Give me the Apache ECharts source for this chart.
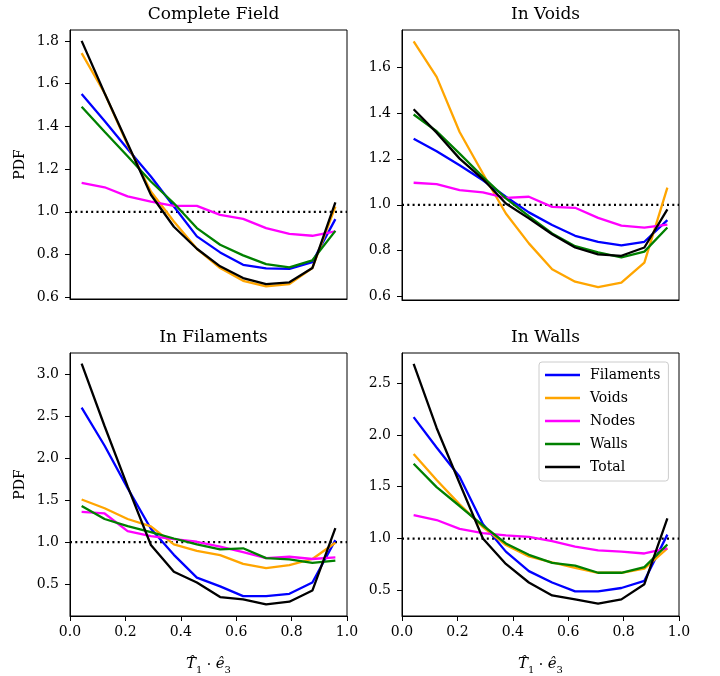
<!DOCTYPE html>
<html>
<head>
<meta charset="utf-8">
<script src="https://cdn.jsdelivr.net/npm/echarts@6/dist/echarts.min.js"></script>
<style>
html,body{margin:0;padding:0;background:#fff;}
#chart{width:720px;height:676px;}
</style>
</head>
<body>
<div id="chart"></div>
<script>
// Bin centres of T1·e3
const xCenters = [0.042,0.125,0.208,0.292,0.375,0.458,0.542,0.625,0.708,0.792,0.875,0.958];

// Complete Field
const cfFilaments = [1.551,1.425,1.294,1.165,1.025,0.885,0.810,0.752,0.735,0.733,0.765,0.966];
const cfVoids     = [1.743,1.555,1.313,1.095,0.955,0.827,0.737,0.677,0.651,0.662,0.737,1.025];
const cfNodes     = [1.136,1.115,1.072,1.048,1.028,1.028,0.986,0.967,0.924,0.897,0.888,0.908];
const cfWalls     = [1.492,1.375,1.260,1.142,1.040,0.924,0.846,0.796,0.755,0.740,0.773,0.911];
const cfTotal     = [1.800,1.555,1.320,1.080,0.930,0.827,0.745,0.690,0.662,0.670,0.737,1.044];

// In Voids
const vFilaments = [1.288,1.233,1.172,1.107,1.035,0.967,0.912,0.865,0.839,0.823,0.839,0.933];
const vVoids     = [1.712,1.557,1.317,1.136,0.962,0.832,0.719,0.665,0.642,0.661,0.748,1.075];
const vNodes     = [1.096,1.090,1.064,1.054,1.030,1.035,0.991,0.987,0.943,0.909,0.901,0.914];
const vWalls     = [1.393,1.320,1.223,1.122,1.028,0.951,0.875,0.820,0.793,0.771,0.796,0.901];
const vTotal     = [1.416,1.314,1.201,1.112,1.006,0.941,0.872,0.814,0.784,0.778,0.814,0.980];

// In Filaments
const fFilaments = [2.606,2.151,1.645,1.159,0.848,0.576,0.471,0.355,0.355,0.382,0.518,1.023];
const fVoids     = [1.509,1.404,1.276,1.187,0.973,0.895,0.844,0.740,0.689,0.724,0.798,0.992];
const fNodes     = [1.362,1.342,1.132,1.070,1.035,1.004,0.946,0.879,0.809,0.825,0.798,0.817];
const fWalls     = [1.432,1.276,1.191,1.120,1.043,0.973,0.914,0.926,0.809,0.794,0.751,0.778];
const fTotal     = [3.131,2.384,1.665,0.965,0.646,0.518,0.343,0.316,0.257,0.288,0.421,1.167];

// In Walls
const wFilaments = [2.171,1.879,1.597,1.141,0.874,0.686,0.576,0.491,0.491,0.523,0.592,1.038];
const wVoids     = [1.816,1.565,1.330,1.110,0.937,0.827,0.771,0.717,0.670,0.670,0.711,0.906];
const wNodes     = [1.226,1.179,1.094,1.053,1.031,1.016,0.975,0.922,0.887,0.874,0.856,0.906];
const wWalls     = [1.722,1.496,1.314,1.126,0.953,0.843,0.765,0.739,0.670,0.670,0.724,0.943];
const wTotal     = [2.686,2.067,1.534,1.000,0.755,0.576,0.451,0.413,0.372,0.413,0.560,1.195];

// Reference line (uniform PDF)
const refLineX = [0, 1];
const refLineY = [1, 1];

// Tick labels
const xTicks  = [0.0,0.2,0.4,0.6,0.8,1.0];
const yTicks1 = [0.6,0.8,1.0,1.2,1.4,1.6,1.8];
const yTicks2 = [0.6,0.8,1.0,1.2,1.4,1.6];
const yTicks3 = [0.5,1.0,1.5,2.0,2.5,3.0];
const yTicks4 = [0.5,1.0,1.5,2.0,2.5];

const seriesNames = ['Filaments','Voids','Nodes','Walls','Total'];
const panelTitles = ['Complete Field','In Voids','In Filaments','In Walls'];

const colors = {Filaments:'#0000ff', Voids:'#ffa500', Nodes:'#ff00ff', Walls:'#008000', Total:'#000000'};
const FONT = 'DejaVu Serif';

const panels = [
  {data:[cfFilaments,cfVoids,cfNodes,cfWalls,cfTotal], ticks:yTicks1, min:0.592, max:1.851,
   grid:{left:70, top:30, width:277, height:269}, bottom:false, ylabel:true},
  {data:[vFilaments,vVoids,vNodes,vWalls,vTotal], ticks:yTicks2, min:0.5855, max:1.761,
   grid:{left:402, top:30, width:277, height:270}, bottom:false, ylabel:false},
  {data:[fFilaments,fVoids,fNodes,fWalls,fTotal], ticks:yTicks3, min:0.117, max:3.259,
   grid:{left:70, top:353, width:277, height:270}, bottom:true, ylabel:true},
  {data:[wFilaments,wVoids,wNodes,wWalls,wTotal], ticks:yTicks4, min:0.253, max:2.79,
   grid:{left:402, top:353, width:277, height:270}, bottom:true, ylabel:false}
];

const grids = [], xAxes = [], yAxes = [], series = [], titles = [];
const xName = '{it|T\u0302}{sub|1}{op| \u00b7 }{it|e\u0302}{sub|3}';

panels.forEach((p, i) => {
  grids.push(Object.assign({show:true, borderColor:'#000', borderWidth:1, backgroundColor:'transparent'}, p.grid));
  xAxes.push({
    type:'value', gridIndex:i, min:0, max:1,
    splitLine:{show:false},
    axisLine:{show:true, onZero:false, lineStyle:{color:'#000', width:1}},
    axisTick:{show:p.bottom, length:5, customValues:xTicks, lineStyle:{color:'#000', width:1}},
    axisLabel:{show:p.bottom, customValues:xTicks, margin:9, color:'#000', fontFamily:FONT, fontSize:14,
      formatter:v => v.toFixed(1)},
    name: p.bottom ? xName : '',
    nameLocation:'middle', nameGap:36,
    nameTextStyle:{color:'#000', fontFamily:FONT, fontSize:14,
      rich:{
        it:{fontFamily:FONT, fontStyle:'italic', fontSize:15, lineHeight:20, verticalAlign:'bottom'},
        sub:{fontFamily:FONT, fontSize:10, lineHeight:14, verticalAlign:'bottom', padding:[0,0,-3,0]},
        op:{fontFamily:FONT, fontSize:14, lineHeight:20, verticalAlign:'bottom'}
      }}
  });
  yAxes.push({
    type:'value', gridIndex:i, min:p.min, max:p.max,
    splitLine:{show:false},
    axisLine:{show:true, onZero:false, lineStyle:{color:'#000', width:1}},
    axisTick:{show:true, length:5, customValues:p.ticks, lineStyle:{color:'#000', width:1}},
    axisLabel:{customValues:p.ticks, margin:11, color:'#000', fontFamily:FONT, fontSize:14,
      formatter:v => v.toFixed(1)},
    name: p.ylabel ? 'PDF' : '',
    nameLocation:'middle', nameGap:43, nameRotate:90,
    nameTextStyle:{color:'#000', fontFamily:FONT, fontSize:14}
  });
  titles.push({
    text: panelTitles[i],
    left: p.grid.left + p.grid.width / 2,
    top: p.grid.top - 29,
    textAlign:'center',
    textStyle:{fontFamily:FONT, fontSize:17, fontWeight:'normal', color:'#000'}
  });
  series.push({
    type:'line', xAxisIndex:i, yAxisIndex:i, silent:true, showSymbol:false, symbol:'none',
    data: refLineX.map((x, k) => [x, refLineY[k]]),
    lineStyle:{color:'#000', width:2.2, type:[2,3.3]}, z:1, animation:false
  });
  p.data.forEach((arr, k) => {
    const nm = seriesNames[k];
    series.push({
      name:nm, type:'line', xAxisIndex:i, yAxisIndex:i,
      showSymbol:false, symbol:'none', animation:false,
      data: xCenters.map((x, j) => [x, arr[j]]),
      lineStyle:{color:colors[nm], width:2.3},
      itemStyle:{color:colors[nm]},
      z:2 + k
    });
  });
});

const chart = echarts.init(document.getElementById('chart'), null, {renderer:'canvas'});
chart.setOption({
  animation:false,
  backgroundColor:'#fff',
  title: titles,
  grid: grids,
  xAxis: xAxes,
  yAxis: yAxes,
  legend:{
    data: seriesNames,
    orient:'vertical',
    left:539, top:362,
    padding:[5,8,6,6],
    itemGap:7,
    itemWidth:35, itemHeight:2.5,
    icon:'rect',
    borderColor:'#cccccc', borderWidth:1, borderRadius:3,
    backgroundColor:'rgba(255,255,255,0.8)',
    textStyle:{fontFamily:FONT, fontSize:14, color:'#000', lineHeight:16, padding:[0,0,0,5]},
    selectedMode:false,
    z:10
  },
  series: series
});
</script>
</body>
</html>
